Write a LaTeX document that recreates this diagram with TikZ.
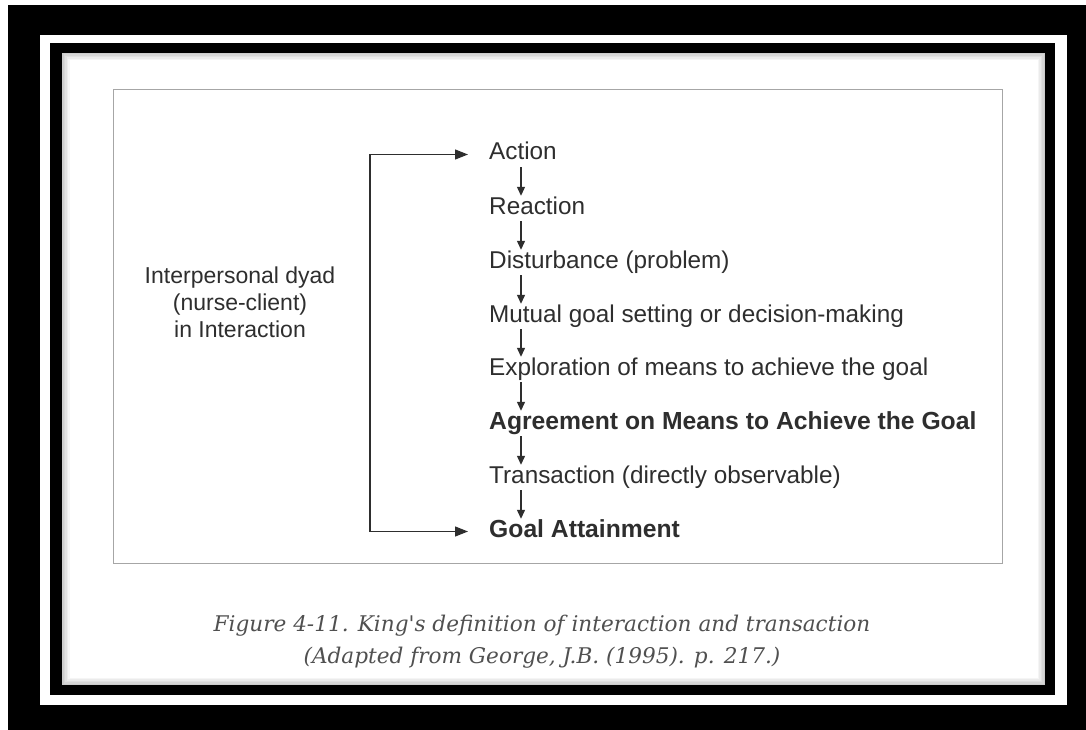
\documentclass[tikz,border=0pt]{standalone}
\usepackage{fontspec}
\setmainfont{Liberation Sans}
\newfontfamily\capfont{DejaVu Serif}
\usetikzlibrary{arrows.meta}
\usetikzlibrary{positioning}
\definecolor{ink}{HTML}{2E2E2E}
\definecolor{capgray}{HTML}{505050}
\tikzstyle{stage}=[anchor=base west,inner sep=0pt,text height=15pt,text depth=4pt,
                   text=ink,font=\fontsize{24.3}{28}\selectfont]
\tikzstyle{key}=[stage,font=\fontsize{24.7}{28}\selectfont\bfseries]
\tikzstyle{hit}=[line width=1.3pt,draw=ink,>={Triangle[length=13pt,width=10pt]}]
\tikzstyle{next}=[hit,->,line width=1.2pt,>={Triangle[length=9pt,width=8pt]},
                  shorten <=3pt,shorten >=3pt]

\begin{document}
\begin{tikzpicture}[x=1pt,y=-1pt]
\useasboundingbox (0,0) rectangle (1086,730);
\fill[black] (8,5) rectangle (1086,730);
\fill[white] (40,35) rectangle (1067,705);
\fill[black] (50,43) rectangle (1055,695);
\fill[white] (62,53) rectangle (1045,685);
\foreach \i in {1,...,6}
  \draw[black,opacity=0.24-0.04*\i,line width=1.5pt]
    ({61.25+1.5*\i},{52.25+1.5*\i}) rectangle ({1045.75-1.5*\i},{685.75-1.5*\i});
\draw[gray!70,line width=1pt] (113,90) rectangle (1002,563);

\node[stage] (action) at (489,160) {Action};
\node[stage] (reaction) at (489,214) {Reaction};
\node[stage] (disturb) at (489,268) {Disturbance (problem)};
\node[stage] (mutual) at (489,322) {Mutual goal setting or decision-making};
\node[stage] (explore) at (489,375) {Exploration of means to achieve the goal};
\node[key] (agree) at (489,429) {Agreement on Means to Achieve the Goal};
\node[stage] (transact) at (489,483) {Transaction (directly observable)};
\node[key] (goal) at (489,537) {Goal Attainment};
\foreach \a/\b in {action/reaction,reaction/disturb,disturb/mutual,mutual/explore,
                   explore/agree,agree/transact,transact/goal}
  \draw[next] ([xshift=32pt]\a.south west) -- ([xshift=32pt]\b.north west);

\coordinate (bend) at (370,340);
\draw[hit,<->] ([xshift=-21pt]action.west) -| (bend) |- ([xshift=-21pt]goal.west);

\node[align=center,text=ink,font=\fontsize{23}{27}\selectfont] (dyad) at (240,302)
  {Interpersonal dyad\\(nurse-client)\\in Interaction};

\node[align=center,text=capgray,font=\capfont\itshape\fontsize{21.6}{32}\selectfont]
  (caption) at (542,642)
  {Figure 4-11. King's definition of interaction and transaction\\
   (Adapted from George, J.B. (1995). p. 217.)};
\end{tikzpicture}
\end{document}
